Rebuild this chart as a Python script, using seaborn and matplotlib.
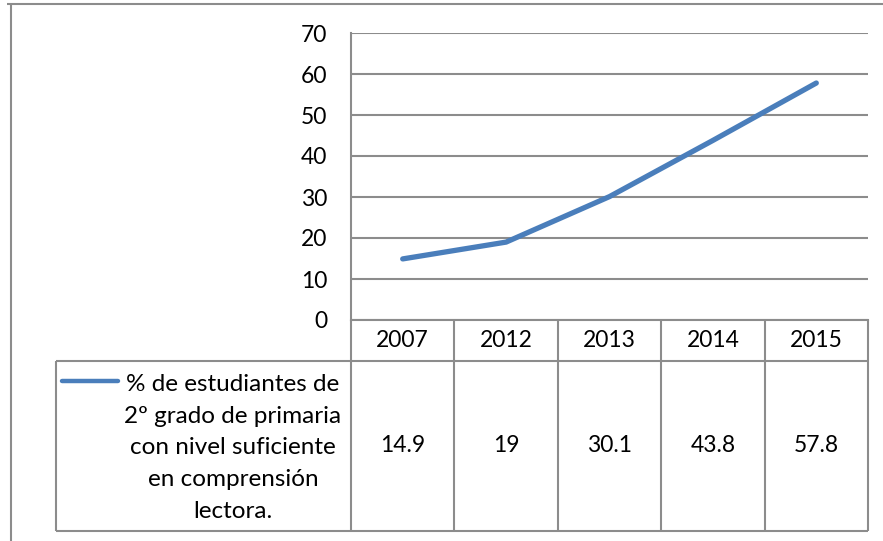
import matplotlib
matplotlib.use('Agg')
import matplotlib.pyplot as plt
import seaborn as sns
import pandas as pd

# data
years = ['2007', '2012', '2013', '2014', '2015']
values = [14.9, 19, 30.1, 43.8, 57.8]
value_labels = ['14.9', '19', '30.1', '43.8', '57.8']
series_name = ('% de estudiantes de\n2º grado de primaria\ncon nivel suficiente\n'
               'en comprensión\nlectora.')
y_ticks = [0, 10, 20, 30, 40, 50, 60, 70]

W, H = 883, 541
sns.set_theme(style='white')
plt.rcParams['font.family'] = ['Lato', 'DejaVu Sans']

grid_c = '#8c8c8c'
line_c = '#4a7ebb'
fs = 16.5

fig = plt.figure(figsize=(W / 100, H / 100), dpi=100)
fig.patch.set_facecolor('white')


def fx(px):
    return px / W


def fy(py):
    return 1 - py / H


# layout in pixels
x0, x1 = 351, 868
y_top, y_zero, y_head, y_bot = 33, 320, 361, 531
leg_x = 56

# main plot area
ax = fig.add_axes([fx(x0), fy(y_zero), fx(x1) - fx(x0), fy(y_top) - fy(y_zero)])
df = pd.DataFrame({'year': years, 'value': values})
sns.lineplot(data=df, x='year', y='value', ax=ax, color=line_c, lw=3.8,
             solid_capstyle='round', solid_joinstyle='round')
ax.set_xlim(-0.5, len(years) - 0.5)
ax.set_ylim(0, 70)
ax.set_yticks(y_ticks)
ax.set_xticks([])
ax.set_xlabel('')
ax.set_ylabel('')
ax.yaxis.grid(True, color=grid_c, lw=1.5)
ax.set_axisbelow(True)
ax.tick_params(axis='y', length=0, pad=17, labelsize=fs, labelcolor='black')
for s in ['top', 'right']:
    ax.spines[s].set_visible(False)
for s in ['left', 'bottom']:
    ax.spines[s].set_color(grid_c)
    ax.spines[s].set_linewidth(1.5)
ax.patch.set_alpha(0)

# overlay in pixel coordinates for the frame and the data table
ov = fig.add_axes([0, 0, 1, 1], zorder=-1)
ov.set_xlim(0, W)
ov.set_ylim(H, 0)
ov.axis('off')

lk = dict(color=grid_c, lw=1.5, solid_capstyle='butt')
# outer chart frame
ov.plot([7, W], [4, 4], **lk)
ov.plot([11, 11], [4, H], **lk)

col_w = (x1 - x0) / len(years)
# table lines
ov.plot([x0, x0], [y_zero, y_bot], **lk)
for i in range(1, len(years) + 1):
    xc = x0 + i * col_w
    ov.plot([xc, xc], [y_zero, y_bot], **lk)
ov.plot([leg_x, x1], [y_head, y_head], **lk)
ov.plot([leg_x, x1], [y_bot, y_bot], **lk)
ov.plot([leg_x, leg_x], [y_head, y_bot], **lk)

# table text
for i, (yr, lab) in enumerate(zip(years, value_labels)):
    xc = x0 + (i + 0.5) * col_w
    ov.text(xc, (y_zero + y_head) / 2, yr, ha='center', va='center', fontsize=fs, color='black')
    ov.text(xc, (y_head + y_bot) / 2, lab, ha='center', va='center', fontsize=fs, color='black')

ov.text(233, (y_head + y_bot) / 2 + 2, series_name, ha='center', va='center',
        fontsize=17.5, color='black', linespacing=1.62)
# legend key
ov.plot([62, 118], [381, 381], color=line_c, lw=3.2, solid_capstyle='round')

fig.savefig('out.png', dpi=100, facecolor='white')
